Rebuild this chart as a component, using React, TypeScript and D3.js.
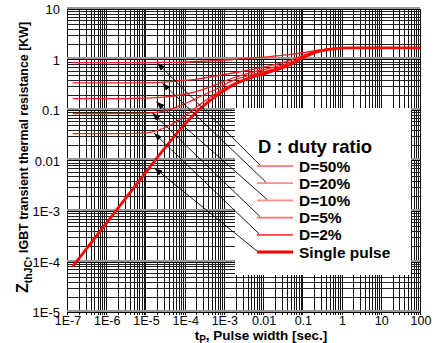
import { useEffect, useRef } from "react";
import * as d3 from "d3";

// axis ticks
const xTicks = [1e-7, 1e-6, 1e-5, 1e-4, 1e-3, 0.01, 0.1, 1, 10, 100];
const xTickLabels = ["1E-7", "1E-6", "1E-5", "1E-4", "1E-3", "0.01", "0.1", "1", "10", "100"];
const yTicks = [1e-5, 1e-4, 1e-3, 0.01, 0.1, 1, 10];
const yTickLabels = ["1E-5", "1E-4", "1E-3", "0.01", "0.1", "1", "10"];

// pulse width [sec.] sampled along every curve
const pulseWidths = [1.4e-7, 1e-6, 1e-5, 3e-5, 1e-4, 2.5e-4, 7e-4, 1.7e-3, 5e-3, 0.013, 0.05, 0.1, 0.25, 0.6, 1.5, 5, 100];

// Zth(j-c) [K/W]
const duty50 = [0.87, 0.87, 0.87, 0.875, 0.89, 0.92, 0.96, 1.0, 1.07, 1.13, 1.26, 1.36, 1.53, 1.65, 1.7, 1.7, 1.7];
const duty20 = [0.343, 0.343, 0.345, 0.355, 0.385, 0.42, 0.48, 0.54, 0.63, 0.73, 0.97, 1.2, 1.49, 1.64, 1.7, 1.7, 1.7];
const duty10 = [0.168, 0.168, 0.172, 0.18, 0.205, 0.245, 0.33, 0.43, 0.55, 0.66, 0.88, 1.12, 1.45, 1.64, 1.7, 1.7, 1.7];
const duty5 = [0.085, 0.085, 0.086, 0.095, 0.133, 0.185, 0.27, 0.38, 0.5, 0.6, 0.84, 1.1, 1.44, 1.63, 1.7, 1.7, 1.7];
const duty2 = [0.034, 0.034, 0.035, 0.044, 0.075, 0.13, 0.225, 0.33, 0.46, 0.57, 0.82, 1.09, 1.44, 1.63, 1.7, 1.7, 1.7];
const singlePulse = [8.0e-5, 5.7e-4, 5.7e-3, 0.017, 0.052, 0.107, 0.2, 0.31, 0.44, 0.55, 0.8, 1.07, 1.43, 1.63, 1.7, 1.7, 1.7];

const seriesNames = ["D=50%", "D=20%", "D=10%", "D=5%", "D=2%", "Single pulse"];
const seriesValues = [duty50, duty20, duty10, duty5, duty2, singlePulse];

// where each legend arrow points to (t, Zth)
const arrowTipT = [2.0e-5, 2.7e-5, 1.9e-5, 1.5e-5, 1.65e-5, 1.7e-5];
const arrowTipZ = [0.85, 0.34, 0.145, 0.087, 0.035, 0.0071];

const App = () => {
  const svgRef = useRef<SVGSVGElement>(null);

  useEffect(() => {
    const width = 445;
    const height = 343;
    const left = 67;
    const right = 420;
    const top = 9;
    const bottom = 312;
    const font = "Arial, 'Liberation Sans', sans-serif";

    const svg = d3.select(svgRef.current);
    svg.selectAll("*").remove();
    svg.attr("width", width).attr("height", height);

    const x = d3.scaleLog().domain([1e-7, 100]).range([left, right]);
    const y = d3.scaleLog().domain([1e-5, 10]).range([bottom, top]);

    // grid
    const xGrid: number[] = [];
    for (let e = -7; e <= 1; e++) for (let k = 1; k <= 9; k++) xGrid.push(k * Math.pow(10, e));
    xGrid.push(100);
    const yGrid: number[] = [];
    for (let e = -5; e <= 0; e++) for (let k = 1; k <= 9; k++) yGrid.push(k * Math.pow(10, e));
    yGrid.push(10);

    const grid = svg.append("g").attr("shape-rendering", "crispEdges");
    grid
      .selectAll("line.vg")
      .data(xGrid)
      .enter()
      .append("line")
      .attr("x1", (d) => Math.round(x(d)) + 0.5)
      .attr("x2", (d) => Math.round(x(d)) + 0.5)
      .attr("y1", top)
      .attr("y2", bottom + 3)
      .attr("stroke", "#111")
      .attr("stroke-width", 1);
    grid
      .selectAll("line.hg")
      .data(yGrid)
      .enter()
      .append("line")
      .attr("x1", left)
      .attr("x2", right)
      .attr("y1", (d) => Math.round(y(d)) + 0.5)
      .attr("y2", (d) => Math.round(y(d)) + 0.5)
      .attr("stroke", (d) => (Math.abs(Math.log10(d) - Math.round(Math.log10(d))) < 1e-6 ? "#000" : "#222"))
      .attr("stroke-width", 1);
    // gray bands on decade lines
    grid
      .selectAll("line.hb")
      .data(yTicks)
      .enter()
      .append("line")
      .attr("x1", left)
      .attr("x2", right)
      .attr("y1", (d) => Math.round(y(d)) - 1)
      .attr("y2", (d) => Math.round(y(d)) - 1)
      .attr("stroke", "#999")
      .attr("stroke-width", 2);

    // legend box
    svg.append("rect").attr("x", 235).attr("y", 108).attr("width", 176).attr("height", 167).attr("fill", "#fff");

    // curves
    const line = d3
      .line<number>()
      .x((_, i) => x(pulseWidths[i]))
      .y((d) => y(d))
      .curve(d3.curveMonotoneX);

    seriesValues.forEach((vals, i) => {
      const single = i === seriesValues.length - 1;
      svg
        .append("path")
        .attr("d", line(vals))
        .attr("fill", "none")
        .attr("stroke", single ? "#ff0000" : "#ff1a1a")
        .attr("stroke-width", single ? 2.8 : 1.3);
    });

    // legend
    const legendColors = ["#ff8a8a", "#ff8a8a", "#ff8a8a", "#ff7070", "#ff4040", "#ff0000"];
    const legendX = 257;
    const legendY0 = 166;
    const legendStep = 17.2;

    svg
      .append("text")
      .attr("x", 258)
      .attr("y", 153)
      .attr("font-family", font)
      .attr("font-weight", "bold")
      .attr("font-size", 18.5)
      .text("D : duty ratio");

    const defs = svg.append("defs");
    defs
      .append("marker")
      .attr("id", "arrow")
      .attr("viewBox", "0 0 8 6")
      .attr("refX", 8)
      .attr("refY", 3)
      .attr("markerWidth", 8)
      .attr("markerHeight", 6)
      .attr("markerUnits", "userSpaceOnUse")
      .attr("orient", "auto")
      .append("path")
      .attr("d", "M0,0L8,3L0,6Z")
      .attr("fill", "#000");

    const tailOffsets = [3, 9, 10, 3, 2, 0];
    seriesNames.forEach((name, i) => {
      const ly = legendY0 + i * legendStep;
      const single = i === seriesNames.length - 1;
      svg
        .append("line")
        .attr("x1", legendX)
        .attr("x2", 293)
        .attr("y1", ly)
        .attr("y2", ly)
        .attr("stroke", legendColors[i])
        .attr("stroke-width", single ? 2.8 : 1.8);
      svg
        .append("text")
        .attr("x", 299)
        .attr("y", ly + 5.5)
        .attr("font-family", font)
        .attr("font-weight", "bold")
        .attr("font-size", 15.5)
        .text(name);
      svg
        .append("line")
        .attr("x1", legendX + tailOffsets[i])
        .attr("y1", ly - 1)
        .attr("x2", x(arrowTipT[i]))
        .attr("y2", y(arrowTipZ[i]))
        .attr("stroke", "#000")
        .attr("stroke-width", 0.9)
        .attr("marker-end", "url(#arrow)");
    });

    // tick labels
    svg
      .append("g")
      .selectAll("text")
      .data(xTicks)
      .enter()
      .append("text")
      .attr("x", (d) => x(d) + 1)
      .attr("y", 325)
      .attr("text-anchor", "middle")
      .attr("font-family", font)
      .attr("font-size", 12.5)
      .text((_, i) => xTickLabels[i]);
    svg
      .append("g")
      .selectAll("text")
      .data(yTicks)
      .enter()
      .append("text")
      .attr("x", 60)
      .attr("y", (d) => y(d) + 5)
      .attr("text-anchor", "end")
      .attr("font-family", font)
      .attr("font-size", 13)
      .text((_, i) => yTickLabels[i]);

    // axis titles
    const xt = svg
      .append("text")
      .attr("x", 261)
      .attr("y", 340)
      .attr("text-anchor", "middle")
      .attr("font-family", font)
      .attr("font-weight", "bold")
      .attr("font-size", 13.5);
    xt.append("tspan").text("t");
    xt.append("tspan").attr("font-size", 10).attr("dy", 2.5).text("P");
    xt.append("tspan").attr("dy", -2.5).text(", Pulse width [sec.]");

    const yt = svg
      .append("text")
      .attr("transform", "translate(28,293) rotate(-90)")
      .attr("font-family", font)
      .attr("font-weight", "bold")
      .attr("font-size", 13.5);
    yt.append("tspan").attr("font-size", 16).text("Z");
    yt.append("tspan").attr("font-size", 10.5).attr("dy", 4).text("thJC");
    yt.append("tspan")
      .attr("dy", -4)
      .attr("textLength", 238)
      .attr("lengthAdjust", "spacingAndGlyphs")
      .text(", IGBT transient thermal resistance [KW]");
  }, []);

  return <svg ref={svgRef} style={{ position: "absolute", left: 0, top: 0 }}></svg>;
};

export default App;
